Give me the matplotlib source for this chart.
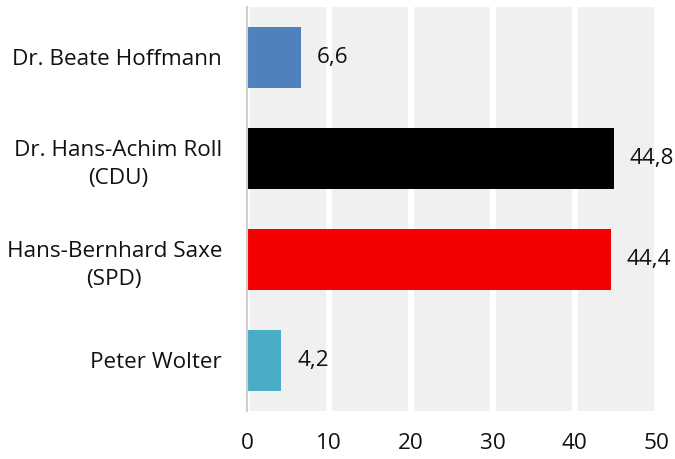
import matplotlib.pyplot as plt
import numpy as np

plt.rcParams['font.family'] = ['Open Sans', 'DejaVu Sans']

candidates = ["Dr. Beate Hoffmann", "Dr. Hans-Achim Roll\n(CDU)",
              "Hans-Bernhard Saxe\n(SPD)", "Peter Wolter"]
votes = [6.6, 44.8, 44.4, 4.2]
colors = ["#4f81bd", "#000000", "#f50000", "#4bacc6"]

fig = plt.figure(figsize=(6.75, 4.59), dpi=100)
ax = fig.add_axes([0.366, 0.1046, 0.607, 0.8802])
ax.set_facecolor("#f0f0f0")

y = np.arange(len(candidates))
ax.barh(y, votes, height=0.6, color=colors, zorder=3)
for yi, v in zip(y, votes):
    ax.text(v + 1.9, yi, f"{v:.1f}".replace(".", ","), va="center", ha="left",
            fontsize=16.2, color="#111111", zorder=4)

ax.set_xlim(0, 50)
ax.set_ylim(3.5, -0.5)
ax.set_xticks([0, 10, 20, 30, 40, 50])
ax.set_yticks(y)
ax.set_yticklabels(candidates, multialignment="center", linespacing=1.43)
ax.tick_params(axis="both", length=0, labelsize=16.2, colors="#111111")
ax.tick_params(axis="x", pad=15.5)
ax.tick_params(axis="y", pad=18)
ax.grid(axis="x", color="white", linewidth=4.3, zorder=1)

for s in ["top", "right", "bottom"]:
    ax.spines[s].set_visible(False)
ax.spines["left"].set_color("#d0d0d0")
ax.spines["left"].set_linewidth(1.5)
ax.spines["left"].set_zorder(5)

fig.savefig("out.png", dpi=100)
